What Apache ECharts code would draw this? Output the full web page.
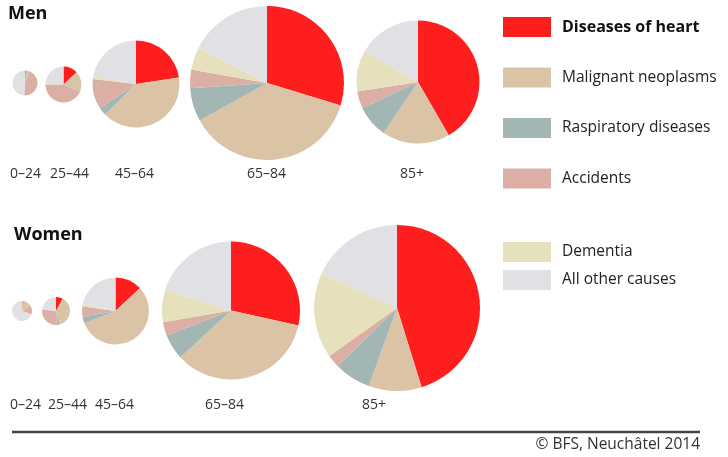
<!DOCTYPE html>
<html>
<head>
<meta charset="utf-8">
<script src="https://cdn.jsdelivr.net/npm/echarts@6/dist/echarts.min.js"></script>
<style>
  html, body { margin: 0; padding: 0; background: #fff; }
  #chart { width: 728px; height: 457px; }
</style>
</head>
<body>
<div id="chart"></div>
<script>
// causes of death, shares in % per age group
const causes = ['Diseases of heart', 'Malignant neoplasms', 'Raspiratory diseases', 'Accidents', 'Dementia', 'All other causes']
const ageGroups = ['0–24', '25–44', '45–64', '65–84', '85+']

const men = [
  [1, 4, 1, 45, 0, 49],
  [13, 18, 1, 43, 0.5, 24.5],
  [22.6, 40, 3, 11.2, 1, 22.2],
  [29.7, 37.2, 7, 3.9, 4.7, 17.5],
  [41.7, 17.8, 8.6, 4.5, 10.8, 16.7],
]
const women = [
  [1, 14, 0.5, 15, 0, 69.5],
  [8, 38, 3, 28, 1, 22],
  [13, 56, 3.3, 5, 1, 21.7],
  [28.5, 34.6, 6, 3.2, 7.5, 20.2],
  [45.2, 10.3, 7.2, 2.5, 16.7, 18.1],
]

const colors = ['#fe1e1e', '#dbc4a6', '#a2b7b3', '#dbafa6', '#e6e0bc', '#e1e1e5']

// pie layout: [cx, cy, r], label x
const menLayout = [[25, 83, 12.5], [63.5, 84.5, 18], [136, 84, 43.5], [267, 83, 77], [418, 82, 61.5]]
const menLabelX = [10, 50, 115, 247, 400]
const womenLayout = [[22, 311, 10], [56, 311, 14], [115.5, 311, 33.5], [231, 310.5, 69], [397, 308, 83]]
const womenLabelX = [10, 48, 95, 205, 362]

const font = '"Open Sans", "Noto Sans", sans-serif'

function pies(values, layout) {
  return values.map((vals, i) => ({
    type: 'pie',
    center: [layout[i][0], layout[i][1]],
    radius: layout[i][2],
    startAngle: 90,
    silent: true,
    animation: false,
    label: { show: false },
    labelLine: { show: false },
    itemStyle: { borderWidth: 0 },
    data: vals.map((v, k) => ({ name: causes[k], value: v })),
  }))
}

function ageLabels(xs, y) {
  return ageGroups.map((g, i) => ({
    type: 'text',
    left: xs[i],
    top: y,
    style: { text: g, font: '14px ' + font, fill: '#333' },
  }))
}

const chart = echarts.init(document.getElementById('chart'), null, { renderer: 'canvas' })

chart.setOption({
  animation: false,
  color: colors,
  legend: [
    {
      data: causes.slice(0, 4),
      orient: 'vertical',
      left: 498,
      top: 12,
      icon: 'rect',
      itemWidth: 48,
      itemHeight: 20,
      itemGap: 30.5,
      selectedMode: false,
      formatter: (n) => (n === causes[0] ? '{b|' + n + '}' : n),
      textStyle: {
        fontFamily: font,
        fontSize: 15.5,
        color: '#222',
        padding: [0, 0, 0, 6],
        rich: { b: { fontFamily: font, fontSize: 16, fontWeight: 'bold', color: '#111' } },
      },
    },
    {
      data: causes.slice(4),
      orient: 'vertical',
      left: 498,
      top: 237,
      icon: 'rect',
      itemWidth: 48,
      itemHeight: 20,
      itemGap: 8,
      selectedMode: false,
      textStyle: { fontFamily: font, fontSize: 15.5, color: '#222', padding: [0, 0, 0, 6] },
    },
  ],
  graphic: [
    { type: 'text', left: 8, top: 5, style: { text: 'Men', font: 'bold 18px ' + font, fill: '#111' } },
    { type: 'text', left: 14, top: 226, style: { text: 'Women', font: 'bold 18px ' + font, fill: '#111' } },
    ...ageLabels(menLabelX, 167),
    ...ageLabels(womenLabelX, 398),
    {
      type: 'line',
      shape: { x1: 12, y1: 432, x2: 700, y2: 432 },
      style: { stroke: '#444', lineWidth: 2.5 },
    },
    {
      type: 'text',
      right: 28,
      top: 437,
      style: { text: '© BFS, Neuchâtel 2014', font: '15.5px ' + font, fill: '#333' },
    },
  ],
  series: [...pies(men, menLayout), ...pies(women, womenLayout)],
})
</script>
</body>
</html>
